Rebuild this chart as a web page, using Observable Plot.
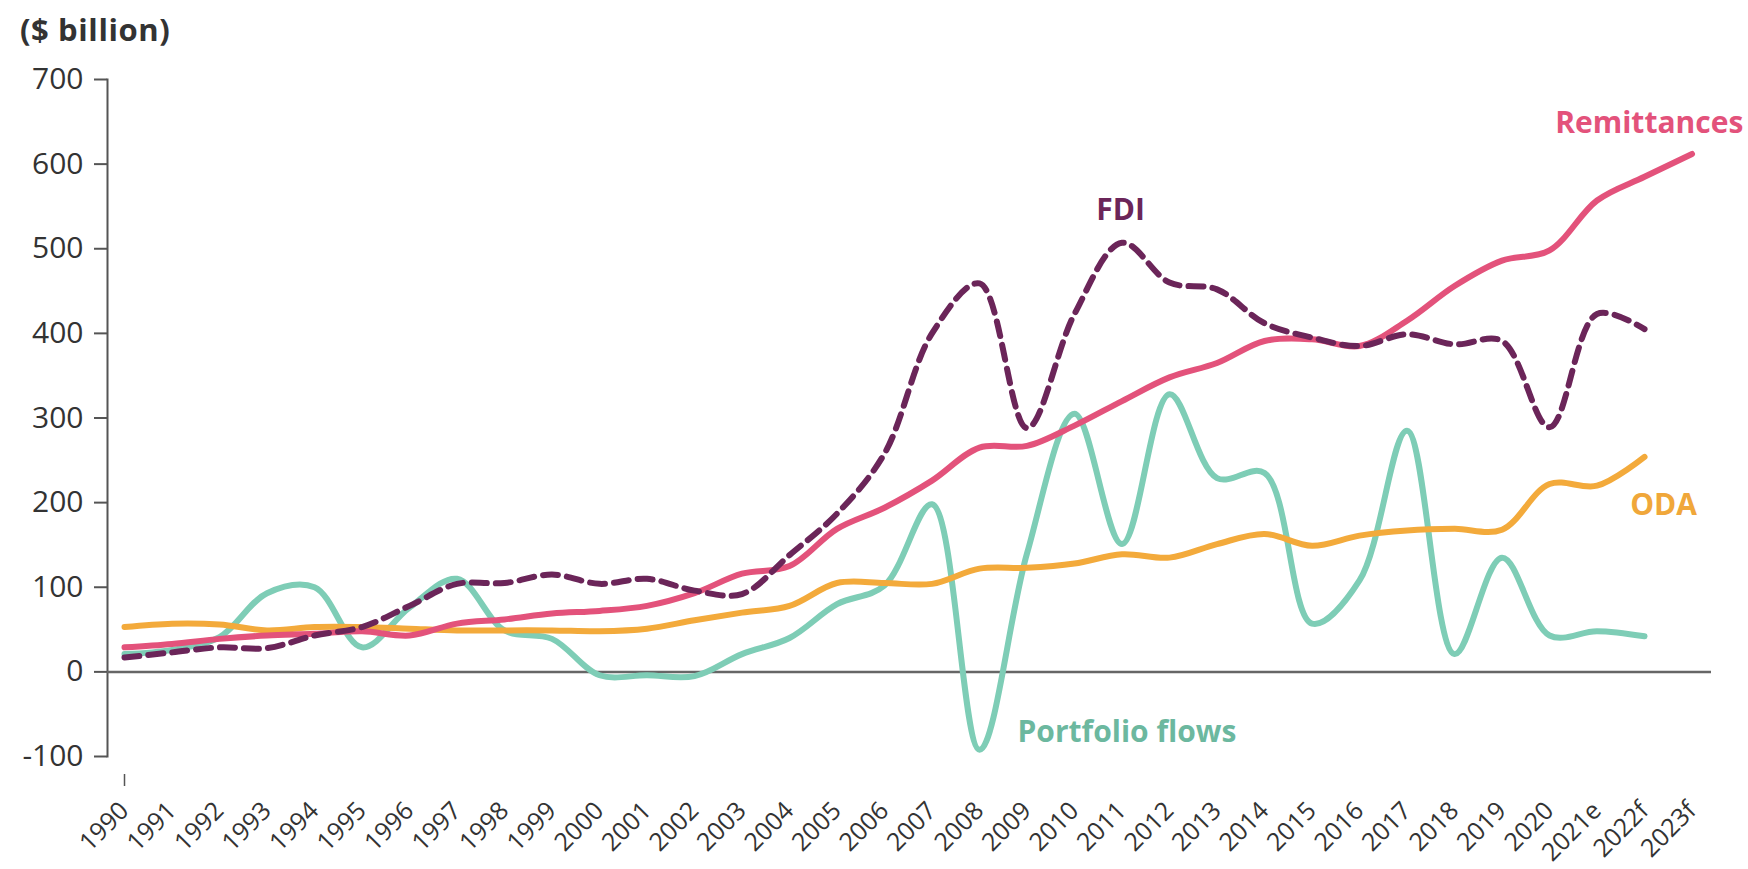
<!DOCTYPE html>
<html>
<head>
<meta charset="utf-8">
<script src="https://cdn.jsdelivr.net/npm/d3@7"></script>
<script src="https://cdn.jsdelivr.net/npm/@observablehq/plot@0.6"></script>
<style>
  html, body { margin: 0; padding: 0; background: #fff; }
  #wrap { position: relative; width: 1748px; height: 869px; }
  #title { position: absolute; left: 20px; top: 8px; font: bold 31px "Open Sans", sans-serif; color: #333; letter-spacing: 0.6px; }
</style>
</head>
<body>
<div id="wrap">
  <div id="title">($ billion)</div>
  <div id="chart"></div>
</div>
<script>
const years = ["1990","1991","1992","1993","1994","1995","1996","1997","1998","1999",
  "2000","2001","2002","2003","2004","2005","2006","2007","2008","2009",
  "2010","2011","2012","2013","2014","2015","2016","2017","2018","2019",
  "2020","2021e","2022f","2023f"];

const remittances = [29, 33, 39, 43, 45, 48, 43, 57, 62, 69,
  72, 78, 93, 116, 125, 169, 194, 226, 265, 267,
  291, 320, 348, 365, 391, 393, 385, 415, 456, 486,
  498, 557, 585, 612];

const fdi = [17, 23, 29, 28, 43, 53, 78, 104, 105, 115,
  104, 110, 96, 92, 138, 187, 258, 400, 459, 288,
  423, 507, 460, 452, 412, 395, 385, 399, 387, 391,
  289, 423, 405, null];

const oda = [53, 57, 56, 49, 53, 53, 51, 49, 49, 49,
  48, 51, 61, 70, 78, 105, 105, 104, 122, 123,
  128, 139, 135, 151, 163, 149, 161, 167, 169, 168,
  222, 220, 254, null];

const portfolio = [21, 26, 41, 93, 100, 29, 76, 110, 49, 39,
  -4, -4, -5, 21, 40, 80, 102, 198, -92, 140,
  305, 151, 328, 229, 235, 57, 108, 285, 21, 135,
  43, 48, 42, null];

const yTicks = [-100, 0, 100, 200, 300, 400, 500, 600, 700];

const seriesNames = ["Portfolio flows", "ODA", "Remittances", "FDI"];
const seriesColors = ["#7ecdb6", "#f3aa3b", "#e3527b", "#6b2559"];
const labelColors = ["#6cb89f", "#f0a73a", "#e3527b", "#6b2559"];
// label anchors: [year index, value]
const labelAt = [[18.8, -72], [32.4, 197], [32.1, 648], [20.97, 545]];
const labelAnchor = ["start", "middle", "middle", "middle"];

const seriesValues = [portfolio, oda, remittances, fdi];
const rows = [];
seriesNames.forEach((name, s) => {
  seriesValues[s].forEach((v, i) => { if (v !== null) rows.push({series: name, i, v}); });
});
const labels = seriesNames.map((name, s) => ({name, i: labelAt[s][0], v: labelAt[s][1], color: labelColors[s], anchor: labelAnchor[s]}));

const font = "'Open Sans', sans-serif";

const chart = Plot.plot({
  width: 1748,
  height: 869,
  marginTop: 79,
  marginBottom: 113,
  marginLeft: 107,
  marginRight: 37,
  style: {fontFamily: font, color: "#333", background: "#fff"},
  x: {type: "linear", domain: [-0.358, 33.41]},
  y: {domain: [-100, 700]},
  marks: [
    Plot.frame({anchor: "left", stroke: "#555", strokeWidth: 2}),
    Plot.ruleY([0], {stroke: "#666", strokeWidth: 2.5}),
    Plot.axisY({ticks: yTicks, tickSize: 13, tickPadding: 11, fontSize: 30, stroke: "#555", strokeWidth: 2, label: null, tickFormat: d => String(d)}),
    Plot.axisX({ticks: d3.range(years.length), tickFormat: i => years[i], tickRotate: -45, tickSize: 0, tickPadding: 50, fontSize: 25, label: null}),
    Plot.axisX({ticks: [0], tickSize: 12, dy: 18, text: null, stroke: "#555", strokeWidth: 1.5, label: null}),
    ...seriesNames.map((name, s) => Plot.line(rows.filter(r => r.series === name), {
      x: "i", y: "v", stroke: seriesColors[s], strokeWidth: 6, curve: "catmull-rom",
      strokeDasharray: name === "FDI" ? "15,9" : null,
      strokeLinecap: "round"
    })),
    ...labels.map(l => Plot.text([l], {x: "i", y: "v", text: "name", fill: l.color, textAnchor: l.anchor, fontSize: 30, fontWeight: "bold"}))
  ]
});
document.getElementById("chart").appendChild(chart);
</script>
</body>
</html>
